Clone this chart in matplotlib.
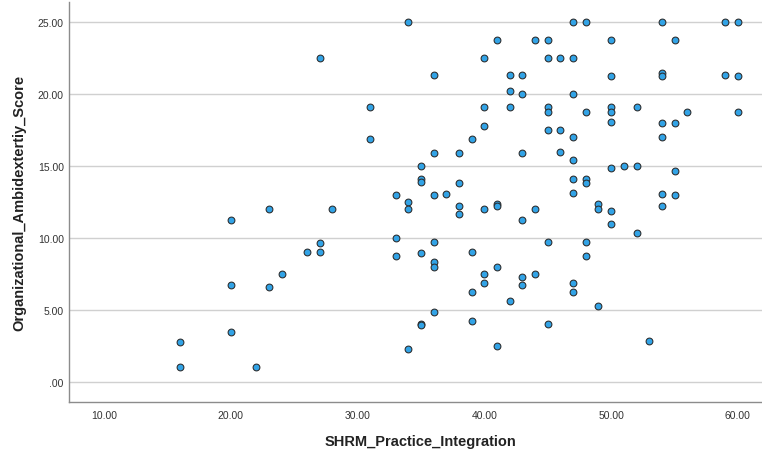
import matplotlib
matplotlib.use('Agg')
import matplotlib.pyplot as plt
from matplotlib.ticker import FuncFormatter

# SHRM practice integration (x) and organisational ambidexterity score (y)
shrm = [16, 16,
        20, 20, 20,
        22,
        23, 23,
        24,
        26,
        27, 27, 27,
        28,
        31, 31,
        33, 33, 33,
        34, 34, 34, 34,
        35, 35, 35, 35, 35, 35,
        36, 36, 36, 36, 36, 36, 36,
        37,
        38, 38, 38, 38,
        39, 39, 39, 39,
        40, 40, 40, 40, 40, 40,
        41, 41, 41, 41, 41,
        42, 42, 42, 42,
        43, 43, 43, 43, 43, 43,
        44, 44, 44,
        45, 45, 45, 45, 45, 45, 45,
        46, 46, 46,
        47, 47, 47, 47, 47, 47, 47, 47, 47,
        48, 48, 48, 48, 48, 48,
        49, 49, 49,
        50, 50, 50, 50, 50, 50, 50, 50,
        51,
        52, 52, 52,
        53,
        54, 54, 54, 54, 54, 54, 54,
        55, 55, 55, 55,
        56,
        59, 59,
        60, 60, 60]

ambi = [2.74, 1.0,
        11.25, 6.73, 3.48,
        1.0,
        12.0, 6.57,
        7.49,
        9.0,
        22.5, 9.63, 9.0,
        12.0,
        19.14, 16.89,
        13.0, 10.0, 8.75,
        25.0, 12.53, 12.0, 2.25,
        15.0, 14.08, 13.92, 8.96, 4.0, 3.95,
        21.36, 15.94, 13.0, 9.74, 8.35, 8.0, 4.87,
        13.08,
        15.94, 13.83, 12.2, 11.69,
        16.89, 9.0, 6.26, 4.25,
        22.5, 19.14, 17.82, 12.0, 7.49, 6.87,
        23.76, 12.37, 12.25, 8.0, 2.5,
        21.36, 20.25, 19.14, 5.64,
        21.36, 20.0, 15.94, 11.25, 7.31, 6.75,
        23.76, 12.0, 7.49,
        23.76, 22.5, 19.14, 18.75, 17.52, 9.74, 4.0,
        22.5, 17.52, 16.0,
        25.0, 22.5, 20.0, 17.0, 15.43, 14.08, 13.13, 6.87, 6.26,
        25.0, 18.75, 14.08, 13.83, 9.74, 8.75,
        12.37, 12.0, 5.25,
        23.76, 21.25, 19.14, 18.75, 18.05, 14.89, 11.88, 11.0,
        15.0,
        19.14, 15.0, 10.33,
        2.81,
        25.0, 21.48, 21.25, 18.0, 17.0, 13.08, 12.25,
        23.76, 18.0, 14.64, 13.01,
        18.75,
        25.0, 21.36,
        25.0, 21.25, 18.75]

x_ticks = [10, 20, 30, 40, 50, 60]
y_ticks = [0, 5, 10, 15, 20, 25]

plt.rcParams['font.family'] = ['Liberation Sans', 'DejaVu Sans']

fig = plt.figure(figsize=(7.62, 4.52), dpi=100, facecolor='white')
ax = fig.add_axes([0.091, 0.109, 0.909, 0.8837])

# grid lines behind the points, like SPSS output
for yv in y_ticks:
    ax.axhline(yv, color='#d0d0d0', lw=1.0, zorder=0)

ax.scatter(shrm, ambi, s=24, c='#32a3e6', edgecolors='#2a2a2a', linewidths=0.75, zorder=3)

ax.set_xlim(7.26, 61.9)
ax.set_ylim(-1.39, 26.4)
ax.set_xticks(x_ticks)
ax.set_yticks(y_ticks)

def fmt(v, pos):
    s = '%.2f' % v
    return s[1:] if s.startswith('0') else s

ax.xaxis.set_major_formatter(FuncFormatter(fmt))
ax.yaxis.set_major_formatter(FuncFormatter(fmt))

ax.tick_params(axis='x', length=0, pad=6, labelsize=7.5, labelcolor='#333333')
ax.tick_params(axis='y', length=0, pad=4, labelsize=7.5, labelcolor='#333333')

for side in ['top', 'right']:
    ax.spines[side].set_visible(False)
for side in ['left', 'bottom']:
    ax.spines[side].set_color('#8c8c8c')
    ax.spines[side].set_linewidth(1.0)

ax.set_xlabel('SHRM_Practice_Integration', fontsize=10.5, fontweight='bold', color='#222222')
ax.set_ylabel('Organizational_Ambidextertiy_Score', fontsize=10.5, fontweight='bold', color='#222222')
ax.xaxis.set_label_coords(0.507, -0.082)
ax.yaxis.set_label_coords(-0.062, 0.50)

fig.savefig('out.png', dpi=100, facecolor='white')
